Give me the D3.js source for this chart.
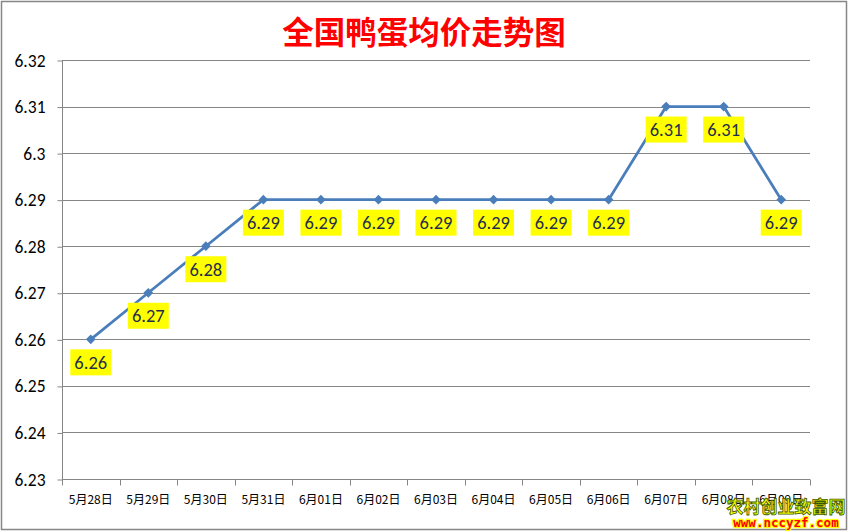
<!DOCTYPE html>
<html>
<head>
<meta charset="utf-8">
<script src="https://cdn.jsdelivr.net/npm/d3@7"></script>
<style>
  body { margin: 0; background: #fff; }
  svg { display: block; }
</style>
</head>
<body>
<svg id="chart"></svg>
<script>
const categories = ["5月28日", "5月29日", "5月30日", "5月31日", "6月01日", "6月02日", "6月03日",
                    "6月04日", "6月05日", "6月06日", "6月07日", "6月08日", "6月09日"];
const prices = [6.26, 6.27, 6.28, 6.29, 6.29, 6.29, 6.29, 6.29, 6.29, 6.29, 6.31, 6.31, 6.29];
const yTicks = [6.23, 6.24, 6.25, 6.26, 6.27, 6.28, 6.29, 6.3, 6.31, 6.32];
const chartTitle = "全国鸭蛋均价走势图";

const width = 849, height = 532;
const plot = { left: 62, right: 810, top: 60, bottom: 479 };

const svg = d3.select("#chart").attr("width", width).attr("height", height);

// outer frame
svg.append("rect")
    .attr("x", 1.5).attr("y", 1.5)
    .attr("width", width - 4).attr("height", height - 4)
    .attr("fill", "#fff").attr("stroke", "#868686").attr("stroke-width", 1.5);

const x = d3.scaleBand().domain(categories).range([plot.left, plot.right]);
const y = d3.scaleLinear().domain([6.23, 6.32]).range([plot.bottom, plot.top]);

// gridlines
svg.append("g")
    .selectAll("line")
    .data(yTicks.slice(1))
    .join("line")
    .attr("x1", plot.left).attr("x2", plot.right)
    .attr("y1", d => Math.round(y(d)) + 0.5).attr("y2", d => Math.round(y(d)) + 0.5)
    .attr("stroke", "#868686").attr("stroke-width", 1);

// y axis
const yAxis = svg.append("g")
    .attr("transform", "translate(" + (plot.left + 0.5) + ",0.5)")
    .call(d3.axisLeft(y).tickValues(yTicks).tickSize(5).tickPadding(12).tickFormat(d => String(+d.toFixed(2))));
yAxis.select(".domain").attr("stroke", "#868686").attr("d", "M0," + plot.top + "V" + plot.bottom);
yAxis.selectAll(".tick line").attr("stroke", "#868686");
yAxis.selectAll(".tick text")
    .attr("fill", "#000")
    .style("font-family", "Carlito, 'Liberation Sans', sans-serif")
    .style("font-size", "17.5px");

// x axis
const xAxis = svg.append("g")
    .attr("transform", "translate(0," + (plot.bottom + 0.5) + ")")
    .call(d3.axisBottom(x).tickSize(0).tickPadding(16));
xAxis.select(".domain").attr("stroke", "#868686").attr("d", "M" + plot.left + ",0H" + plot.right);
xAxis.selectAll(".tick text")
    .attr("fill", "#000")
    .style("font-family", "'Noto Sans CJK SC', sans-serif")
    .style("font-size", "12px");
// tick marks at category boundaries
xAxis.append("g")
    .selectAll("line")
    .data(categories)
    .join("line")
    .attr("x1", d => Math.round(x(d) + x.bandwidth()) + 0.5)
    .attr("x2", d => Math.round(x(d) + x.bandwidth()) + 0.5)
    .attr("y1", 0).attr("y2", 6)
    .attr("stroke", "#868686");
xAxis.append("line")
    .attr("x1", plot.left + 0.5).attr("x2", plot.left + 0.5)
    .attr("y1", 0).attr("y2", 6).attr("stroke", "#868686");

const cx = d => x(d) + x.bandwidth() / 2;
const pts = categories.map((c, i) => ({ c: c, v: prices[i] }));

// line
svg.append("path")
    .datum(pts)
    .attr("fill", "none")
    .attr("stroke", "#4A7EBB")
    .attr("stroke-width", 2.75)
    .attr("stroke-linejoin", "round")
    .attr("d", d3.line().x(d => cx(d.c)).y(d => y(d.v)));

// markers
svg.append("g")
    .selectAll("path")
    .data(pts)
    .join("path")
    .attr("transform", d => "translate(" + cx(d.c) + "," + y(d.v) + ")")
    .attr("d", d3.symbol(d3.symbolDiamond2, 60))
    .attr("fill", "#4A7EBB");

// data labels
const labels = svg.append("g")
    .selectAll("g")
    .data(pts)
    .join("g")
    .attr("transform", d => "translate(" + cx(d.c) + "," + (y(d.v) + 23) + ")");
labels.append("rect")
    .attr("x", -20.5).attr("y", -13)
    .attr("width", 41).attr("height", 26)
    .attr("fill", "#FFFF00");
labels.append("text")
    .attr("text-anchor", "middle")
    .attr("dy", "0.36em")
    .attr("fill", "#1F2D4F")
    .style("font-family", "Carlito, 'Liberation Sans', sans-serif")
    .style("font-size", "18.5px")
    .text(d => d.v.toFixed(2));

// title
svg.append("text")
    .attr("x", 424).attr("y", 44)
    .attr("text-anchor", "middle")
    .attr("fill", "#FF0000")
    .style("font-family", "'Noto Sans CJK SC', sans-serif")
    .style("font-weight", "bold")
    .style("font-size", "31.5px")
    .text(chartTitle);

// watermark
svg.append("text")
    .attr("x", 786).attr("y", 513)
    .attr("text-anchor", "middle")
    .attr("fill", "#FFFF00")
    .attr("stroke", "#3A5A00").attr("stroke-width", 0.8)
    .style("font-family", "'Noto Sans CJK SC', sans-serif")
    .style("font-weight", "bold")
    .style("font-size", "17px")
    .text("农村创业致富网");
svg.append("text")
    .attr("x", 786).attr("y", 527)
    .attr("text-anchor", "middle")
    .attr("fill", "#FF0000")
    .attr("stroke", "#FFFF00").attr("stroke-width", 2.5)
    .attr("paint-order", "stroke")
    .style("font-family", "'DejaVu Sans Mono', monospace")
    .style("font-weight", "bold")
    .style("font-size", "12.5px")
    .text("www.nccyzf.com");
</script>
</body>
</html>
